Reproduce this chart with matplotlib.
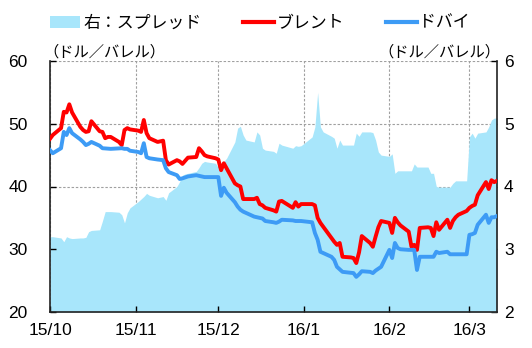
import pandas as pd
import matplotlib
matplotlib.use("Agg")
import matplotlib.pyplot as plt
import matplotlib.dates as mdates
from matplotlib.patches import Patch
from matplotlib.lines import Line2D
from matplotlib.ticker import FuncFormatter

plt.rcParams['font.family'] = ['Liberation Sans', 'Noto Sans CJK JP']

# ブレント（ドル/バレル）
brent_pts = [
    ("2015-10-01", 47.6), ("2015-10-02", 48.2), ("2015-10-05", 49.3), ("2015-10-06", 51.9),
    ("2015-10-07", 51.8), ("2015-10-08", 53.1), ("2015-10-09", 51.8), ("2015-10-12", 49.5),
    ("2015-10-13", 49.0), ("2015-10-14", 48.7), ("2015-10-15", 48.8), ("2015-10-16", 50.4),
    ("2015-10-19", 48.8), ("2015-10-20", 48.7), ("2015-10-21", 47.7), ("2015-10-22", 47.9),
    ("2015-10-23", 47.9), ("2015-10-26", 47.1), ("2015-10-27", 46.6), ("2015-10-28", 49.0),
    ("2015-10-29", 49.3), ("2015-10-30", 49.1), ("2015-11-02", 48.9), ("2015-11-03", 48.7),
    ("2015-11-04", 50.6), ("2015-11-05", 48.5), ("2015-11-06", 47.7), ("2015-11-09", 47.1),
    ("2015-11-10", 47.2), ("2015-11-11", 47.3), ("2015-11-12", 44.2), ("2015-11-13", 43.5),
    ("2015-11-16", 44.2), ("2015-11-17", 44.0), ("2015-11-18", 43.6), ("2015-11-19", 44.1),
    ("2015-11-20", 44.6), ("2015-11-23", 44.7), ("2015-11-24", 46.1), ("2015-11-25", 45.6),
    ("2015-11-26", 45.0), ("2015-11-27", 44.8), ("2015-11-30", 44.5), ("2015-12-01", 44.3),
    ("2015-12-02", 42.6), ("2015-12-03", 43.7), ("2015-12-04", 42.9), ("2015-12-07", 40.5),
    ("2015-12-08", 40.2), ("2015-12-09", 40.0), ("2015-12-10", 38.0), ("2015-12-11", 38.0),
    ("2015-12-14", 38.0), ("2015-12-15", 38.2), ("2015-12-16", 37.2), ("2015-12-17", 37.0),
    ("2015-12-18", 36.6), ("2015-12-21", 36.2), ("2015-12-22", 36.0), ("2015-12-23", 37.6),
    ("2015-12-24", 37.7), ("2015-12-28", 36.6), ("2015-12-29", 37.5), ("2015-12-30", 36.8),
    ("2015-12-31", 37.2), ("2016-01-04", 37.2), ("2016-01-05", 37.0), ("2016-01-06", 35.0),
    ("2016-01-07", 34.2), ("2016-01-08", 33.6), ("2016-01-11", 31.8), ("2016-01-12", 31.2),
    ("2016-01-13", 30.7), ("2016-01-14", 31.0), ("2016-01-15", 28.8), ("2016-01-18", 28.7),
    ("2016-01-19", 28.6), ("2016-01-20", 27.8), ("2016-01-21", 29.5), ("2016-01-22", 32.1),
    ("2016-01-25", 31.0), ("2016-01-26", 30.4), ("2016-01-27", 32.0), ("2016-01-28", 33.5),
    ("2016-01-29", 34.5), ("2016-02-01", 34.2), ("2016-02-02", 32.6), ("2016-02-03", 35.0),
    ("2016-02-04", 34.3), ("2016-02-05", 33.8), ("2016-02-08", 32.8), ("2016-02-09", 30.4),
    ("2016-02-10", 30.7), ("2016-02-11", 29.9), ("2016-02-12", 33.4), ("2016-02-15", 33.5),
    ("2016-02-16", 33.4), ("2016-02-17", 32.1), ("2016-02-18", 34.3), ("2016-02-19", 33.1),
    ("2016-02-22", 34.7), ("2016-02-23", 33.4), ("2016-02-24", 34.5), ("2016-02-25", 35.1),
    ("2016-02-26", 35.5), ("2016-02-29", 36.1), ("2016-03-01", 36.6), ("2016-03-02", 36.9),
    ("2016-03-03", 37.1), ("2016-03-04", 38.6), ("2016-03-07", 40.7), ("2016-03-08", 39.6),
    ("2016-03-09", 41.0), ("2016-03-10", 40.7), ("2016-03-11", 40.9),
]

# ドバイ（ドル/バレル）
dubai_pts = [
    ("2015-10-01", 45.8), ("2015-10-02", 45.3), ("2015-10-05", 46.1), ("2015-10-06", 48.7),
    ("2015-10-07", 48.2), ("2015-10-08", 49.3), ("2015-10-09", 48.5), ("2015-10-12", 47.5),
    ("2015-10-13", 47.1), ("2015-10-14", 46.6), ("2015-10-15", 46.8), ("2015-10-16", 47.1),
    ("2015-10-19", 46.5), ("2015-10-20", 46.1), ("2015-10-23", 46.0), ("2015-10-27", 46.1),
    ("2015-10-28", 46.0), ("2015-10-29", 46.0), ("2015-10-30", 45.7), ("2015-11-02", 45.5),
    ("2015-11-03", 45.3), ("2015-11-04", 46.9), ("2015-11-05", 44.7), ("2015-11-06", 44.5),
    ("2015-11-09", 44.3), ("2015-11-11", 44.2), ("2015-11-12", 42.9), ("2015-11-13", 42.3),
    ("2015-11-16", 41.8), ("2015-11-17", 41.2), ("2015-11-18", 41.3), ("2015-11-20", 41.6),
    ("2015-11-23", 41.8), ("2015-11-24", 41.7), ("2015-11-25", 41.6), ("2015-11-26", 41.5),
    ("2015-11-30", 41.5), ("2015-12-01", 41.5), ("2015-12-02", 38.5), ("2015-12-03", 39.8),
    ("2015-12-04", 39.0), ("2015-12-07", 37.5), ("2015-12-08", 36.8), ("2015-12-09", 36.3),
    ("2015-12-10", 36.0), ("2015-12-11", 35.8), ("2015-12-14", 35.2), ("2015-12-15", 35.1),
    ("2015-12-17", 34.9), ("2015-12-18", 34.5), ("2015-12-21", 34.3), ("2015-12-22", 34.2),
    ("2015-12-23", 34.4), ("2015-12-24", 34.7), ("2015-12-28", 34.6), ("2015-12-29", 34.5),
    ("2015-12-31", 34.5), ("2016-01-04", 34.3), ("2016-01-05", 32.6), ("2016-01-06", 31.5),
    ("2016-01-07", 29.6), ("2016-01-08", 29.4), ("2016-01-11", 28.8), ("2016-01-12", 28.3),
    ("2016-01-13", 27.2), ("2016-01-14", 26.8), ("2016-01-15", 26.4), ("2016-01-19", 26.2),
    ("2016-01-20", 25.6), ("2016-01-21", 26.0), ("2016-01-22", 26.5), ("2016-01-25", 26.4),
    ("2016-01-26", 26.2), ("2016-01-27", 26.6), ("2016-01-28", 26.9), ("2016-01-29", 27.2),
    ("2016-02-01", 29.9), ("2016-02-02", 28.6), ("2016-02-03", 31.0), ("2016-02-04", 30.2),
    ("2016-02-05", 30.0), ("2016-02-08", 29.9), ("2016-02-10", 29.9), ("2016-02-11", 26.7),
    ("2016-02-12", 28.8), ("2016-02-17", 28.8), ("2016-02-18", 29.6), ("2016-02-19", 29.4),
    ("2016-02-22", 29.6), ("2016-02-23", 29.2), ("2016-02-29", 29.2), ("2016-03-01", 32.3),
    ("2016-03-02", 32.4), ("2016-03-03", 32.6), ("2016-03-04", 33.9), ("2016-03-07", 35.5),
    ("2016-03-08", 34.2), ("2016-03-09", 35.1), ("2016-03-10", 35.1), ("2016-03-11", 35.3),
]

# スプレッド（右軸、ドル/バレル）
spread_pts = [
    ("2015-10-01", 3.20), ("2015-10-02", 3.20), ("2015-10-05", 3.18), ("2015-10-06", 3.12),
    ("2015-10-07", 3.20), ("2015-10-08", 3.18), ("2015-10-09", 3.17), ("2015-10-12", 3.18),
    ("2015-10-13", 3.18), ("2015-10-14", 3.19), ("2015-10-15", 3.28), ("2015-10-16", 3.30),
    ("2015-10-19", 3.31), ("2015-10-20", 3.45), ("2015-10-21", 3.60), ("2015-10-22", 3.60),
    ("2015-10-23", 3.60), ("2015-10-26", 3.59), ("2015-10-27", 3.55), ("2015-10-28", 3.42),
    ("2015-10-29", 3.58), ("2015-10-30", 3.66), ("2015-11-02", 3.76), ("2015-11-03", 3.80),
    ("2015-11-04", 3.84), ("2015-11-05", 3.89), ("2015-11-06", 3.86), ("2015-11-09", 3.82),
    ("2015-11-10", 3.83), ("2015-11-11", 3.84), ("2015-11-12", 3.78), ("2015-11-13", 3.90),
    ("2015-11-16", 4.00), ("2015-11-17", 4.08), ("2015-11-18", 4.18), ("2015-11-19", 4.20),
    ("2015-11-20", 4.21), ("2015-11-23", 4.24), ("2015-11-24", 4.30), ("2015-11-25", 4.37),
    ("2015-11-26", 4.40), ("2015-11-27", 4.39), ("2015-11-30", 4.37), ("2015-12-01", 4.30),
    ("2015-12-02", 4.34), ("2015-12-03", 4.40), ("2015-12-04", 4.45), ("2015-12-07", 4.71),
    ("2015-12-08", 4.93), ("2015-12-09", 4.96), ("2015-12-10", 4.82), ("2015-12-11", 4.74),
    ("2015-12-14", 4.71), ("2015-12-15", 4.87), ("2015-12-16", 4.82), ("2015-12-17", 4.61),
    ("2015-12-18", 4.58), ("2015-12-21", 4.56), ("2015-12-22", 4.53), ("2015-12-23", 4.69),
    ("2015-12-24", 4.66), ("2015-12-28", 4.61), ("2015-12-29", 4.65), ("2015-12-30", 4.64),
    ("2015-12-31", 4.65), ("2016-01-04", 4.79), ("2016-01-05", 4.95), ("2016-01-06", 5.50),
    ("2016-01-07", 4.95), ("2016-01-08", 4.87), ("2016-01-11", 4.80), ("2016-01-12", 4.77),
    ("2016-01-13", 4.61), ("2016-01-14", 4.74), ("2016-01-15", 4.66), ("2016-01-19", 4.66),
    ("2016-01-20", 4.85), ("2016-01-21", 4.80), ("2016-01-22", 4.87), ("2016-01-25", 4.87),
    ("2016-01-26", 4.86), ("2016-01-27", 4.74), ("2016-01-28", 4.55), ("2016-01-29", 4.50),
    ("2016-02-01", 4.48), ("2016-02-02", 4.52), ("2016-02-03", 4.21), ("2016-02-04", 4.25),
    ("2016-02-09", 4.25), ("2016-02-10", 4.36), ("2016-02-11", 4.31), ("2016-02-15", 4.31),
    ("2016-02-16", 4.21), ("2016-02-17", 4.21), ("2016-02-18", 4.00), ("2016-02-19", 3.99),
    ("2016-02-23", 3.99), ("2016-02-24", 4.05), ("2016-02-25", 4.09), ("2016-02-29", 4.09),
    ("2016-03-01", 4.79), ("2016-03-02", 4.85), ("2016-03-03", 4.77), ("2016-03-04", 4.85),
    ("2016-03-07", 4.87), ("2016-03-08", 4.95), ("2016-03-09", 5.06), ("2016-03-10", 5.09),
    ("2016-03-11", 5.09),
]

legend_labels = ["右：スプレッド", "ブレント", "ドバイ"]
unit_label = "（ドル／バレル）"

RED = "#ff0000"
BLUE = "#3d9bf5"
FILL = "#a8e6fb"
GRID = "#a0a0a0"


def to_series(pts):
    d = pd.to_datetime([p[0] for p in pts])
    v = [p[1] for p in pts]
    return d, v


brent_d, brent = to_series(brent_pts)
dubai_d, dubai = to_series(dubai_pts)
spread_d, spread = to_series(spread_pts)

fig = plt.figure(figsize=(5.32, 3.48), dpi=100)
ax = fig.add_axes([50 / 532, 1 - 312 / 348, 447 / 532, 251 / 348])
ax2 = ax.twinx()

# spread area sits behind the price lines
ax.set_zorder(ax2.get_zorder() + 1)
ax.patch.set_visible(False)

ax2.fill_between(spread_d, spread, 2, color=FILL, linewidth=0, zorder=1)
ax2.set_ylim(2, 6)
ax2.set_yticks([2, 3, 4, 5, 6])

ax.plot(brent_d, brent, color=RED, lw=2.8, zorder=3)
ax.plot(dubai_d, dubai, color=BLUE, lw=2.8, zorder=3)
ax.set_ylim(20, 60)
ax.set_yticks([20, 30, 40, 50, 60])
ax.set_xlim(pd.Timestamp("2015-10-01"), pd.Timestamp("2016-03-11"))

ax.xaxis.set_major_locator(mdates.MonthLocator())
ax.xaxis.set_major_formatter(FuncFormatter(
    lambda x, pos: "{}/{}".format(mdates.num2date(x).year % 100, mdates.num2date(x).month)))

# grid goes on the back axes so the fill covers it
ax2.xaxis.set_visible(True)
ax2.tick_params(axis='x', bottom=False, labelbottom=False, top=False, labeltop=False)
ax2.set_axisbelow(True)
ax2.grid(True, color=GRID, linestyle=(0, (2.2, 1.6)), linewidth=0.8)

for s in ["top", "right"]:
    ax.spines[s].set_visible(False)
for s in ["top", "left", "bottom"]:
    ax2.spines[s].set_visible(False)
for sp in [ax.spines["left"], ax.spines["bottom"], ax2.spines["right"]]:
    sp.set_linewidth(1.2)
    sp.set_color("#222222")

ax.tick_params(axis='y', direction='in', length=4, width=1, labelsize=12.5, pad=16)
ax.tick_params(axis='x', direction='in', length=4, width=1, labelsize=12.5, pad=8)
ax2.tick_params(axis='y', direction='in', length=4, width=1, labelsize=12.5, pad=5)

ax.text(-0.014, 1.004, unit_label, transform=ax.transAxes, ha='left', va='bottom', fontsize=11)
ax.text(1.008, 1.004, unit_label, transform=ax.transAxes, ha='right', va='bottom', fontsize=11)

handles = [
    Patch(facecolor=FILL, edgecolor='none'),
    Line2D([], [], color=RED, lw=3),
    Line2D([], [], color=BLUE, lw=3),
]
fig.legend(handles, legend_labels, loc='center', bbox_to_anchor=(260 / 532, 1 - 23 / 348),
           ncol=3, frameon=False, fontsize=12.2, handlelength=1.8, handletextpad=0.15,
           columnspacing=2.5, borderpad=0)

fig.savefig("out.png", dpi=100)
